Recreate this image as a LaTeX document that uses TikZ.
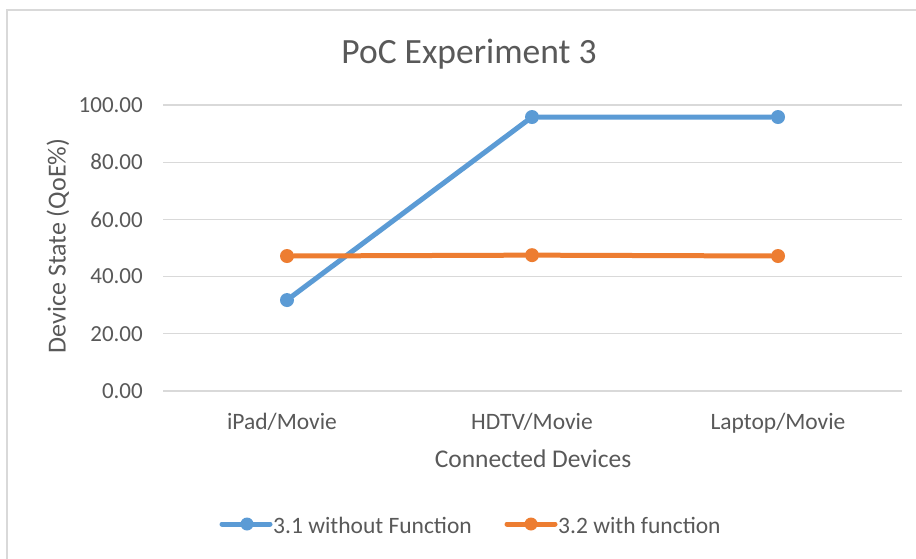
\documentclass[tikz,border=0pt]{standalone}
\usepackage{fontspec}
\setmainfont{Carlito}
\usepackage{xcolor}
\usetikzlibrary{positioning}
\definecolor{seriesblue}{HTML}{5B9BD5}
\definecolor{seriesorange}{HTML}{ED7D31}
\definecolor{gridgray}{HTML}{D9D9D9}
\definecolor{labelgray}{HTML}{595959}

\begin{document}
\begin{tikzpicture}[x=1pt,y=-1pt]
    \useasboundingbox (0,0) rectangle (916,559);
    \fill[white] (0,0) rectangle (916,559);
    \begin{scope}
        \clip (0,0) rectangle (916,559);
        \draw[gridgray, line width=2pt] (7,10) rectangle (940,580);
    \end{scope}

    \begin{scope}[every node/.style={text=labelgray, inner sep=0pt, font=\fontsize{23}{27}\selectfont}]
        \foreach \v in {0,20,...,100}{
            \draw[gridgray, line width=1.2pt] ({163},{391-2.86*\v}) -- ({902},{391-2.86*\v});
            \node[anchor=east] (tick\v) at ({143},{391-2.86*\v}) {\v.00};
        }

        \node[anchor=base] (title) at (469,64) {\fontsize{35.5}{40}\selectfont PoC Experiment 3};

        \node[anchor=base] (ipad)   at (282,429) {\fontsize{23.5}{28}\selectfont iPad/Movie};
        \node[anchor=base] (hdtv)   at (532,429) {\fontsize{23.5}{28}\selectfont HDTV/Movie};
        \node[anchor=base] (laptop) at (778,429) {\fontsize{23.5}{28}\selectfont Laptop/Movie};

        \node[anchor=base] (xlabel) at (533,467) {\fontsize{25.5}{30}\selectfont Connected Devices};
        \node[rotate=90] (ylabel) at (58,246) {\fontsize{26}{30}\selectfont Device State (QoE\%)};

        \node[anchor=base west] (leg1) at (273,533) {\fontsize{23.5}{28}\selectfont 3.1 without Function};
        \node[anchor=base west] (leg2) at (558,533) {\fontsize{23.5}{28}\selectfont 3.2 with function};
    \end{scope}

    \begin{scope}[every node/.style={circle, inner sep=0pt, minimum size=14pt}]
        \node[fill=seriesblue] (b1) at ({287},{391-2.86*31.8}) {};
        \node[fill=seriesblue] (b2) at ({532},{391-2.86*95.8}) {};
        \node[fill=seriesblue] (b3) at ({778},{391-2.86*95.8}) {};

        \node[fill=seriesorange] (o1) at ({287},{391-2.86*47.2}) {};
        \node[fill=seriesorange] (o2) at ({532},{391-2.86*47.5}) {};
        \node[fill=seriesorange] (o3) at ({778},{391-2.86*47.2}) {};

        \node[fill=seriesblue, minimum size=13pt] (lb) at (247,524) {};
        \node[fill=seriesorange, minimum size=13pt] (lo) at (531,524) {};
    \end{scope}

    \coordinate (lbw) at (222,524);
    \coordinate (lbe) at (270,524);
    \coordinate (low) at (507,524);
    \coordinate (loe) at (555,524);

    \begin{scope}[line width=5pt, line cap=round]
        \draw[seriesblue] (b1) -- (b2) -- (b3);
        \draw[seriesorange] (o1) -- (o2) -- (o3);
        \draw[seriesblue] (lbw) -- (lbe);
        \draw[seriesorange] (low) -- (loe);
    \end{scope}
\end{tikzpicture}
\end{document}
